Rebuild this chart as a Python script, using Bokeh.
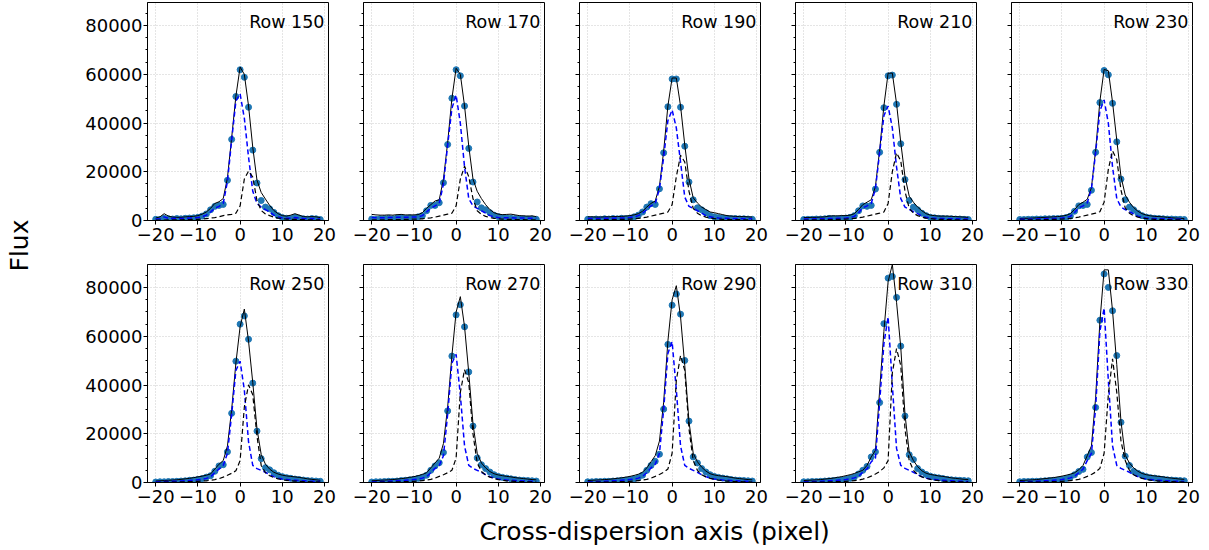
import math
from bokeh.plotting import figure
from bokeh.models import Range1d, FixedTicker, Label
from bokeh.layouts import row, column
from bokeh.embed import file_html
from bokeh.resources import INLINE
from bokeh.core.validation import silence
from bokeh.core.validation.warnings import MISSING_RENDERERS

silence(MISSING_RENDERERS, True)

# ---------------- data ----------------
pixel = list(range(-20, 20))
row_numbers = [150, 170, 190, 210, 230, 250, 270, 290, 310, 330]
x_ticks = [-20, -10, 0, 10, 20]
x_tick_labels = ["\u221220", "\u221210", "0", "10", "20"]
y_ticks = [0, 20000, 40000, 60000, 80000]
y_tick_labels = ["0", "20000", "40000", "60000", "80000"]

flux_150 = [500, 400, 900, 700, 600, 800, 700, 900, 1000, 1100, 1300, 1800, 2700, 4400, 5800, 6200, 6600, 16500, 33300, 50900,
            61900, 58800, 46500, 28900, 15400, 8200, 5500, 4800, 3300, 2000, 1200, 900, 800, 1300, 1000, 700, 600, 800, 700, 400]
model_150 = [1000, 1500, 2800, 1800, 1400, 1300, 1300, 1500, 1600, 1700, 2000, 2600, 3500, 5000, 7000, 7700, 9000, 17500, 34000, 51000,
             63000, 60000, 47000, 30000, 16500, 11500, 8800, 6200, 4100, 2800, 2000, 1800, 2200, 2800, 2200, 1600, 1500, 1600, 1500, 1200]
comp1_150 = [600, 700, 1500, 900, 800, 800, 800, 900, 1000, 1100, 1200, 1500, 2200, 3500, 5000, 5800, 7000, 16000, 33000, 49000,
             52000, 42000, 26000, 12000, 7000, 5500, 4500, 3500, 2200, 1500, 1000, 900, 900, 1200, 1000, 800, 700, 800, 700, 600]
comp2_150 = [200, 200, 200, 250, 250, 300, 300, 350, 400, 450, 500, 600, 800, 1000, 1200, 1500, 2000, 2300, 2500, 3000,
             6000, 17000, 20300, 17800, 8200, 4100, 2700, 2000, 1400, 1000, 800, 600, 500, 450, 400, 350, 300, 300, 250, 250]

flux_170 = [600, 500, 700, 800, 900, 700, 1000, 1200, 900, 1100, 1000, 1500, 2000, 4000, 6200, 6200, 7300, 15500, 31200, 50200,
            61900, 59400, 47000, 29600, 15800, 7600, 5200, 4400, 3200, 2200, 1600, 1200, 1000, 900, 800, 700, 700, 600, 600, 500]
model_170 = [2500, 2300, 2200, 2200, 2300, 2200, 2400, 2500, 2300, 2300, 2300, 2400, 3200, 5000, 6500, 8000, 8500, 17000, 32000, 50000,
             62500, 60000, 47000, 30500, 17000, 12000, 9000, 6500, 4500, 3200, 2600, 2400, 2500, 2600, 2300, 2000, 1900, 1800, 1900, 1600]
comp1_170 = [1200, 1100, 1100, 1100, 1200, 1200, 1300, 1300, 1300, 1400, 1400, 1500, 2000, 3500, 5000, 6000, 7000, 15000, 31000, 46000,
             51500, 40000, 22000, 9000, 6000, 5000, 4000, 3000, 2000, 1500, 1200, 1100, 1100, 1100, 1000, 1000, 1000, 900, 900, 900]
comp2_170 = [300, 300, 300, 300, 350, 350, 400, 400, 450, 500, 550, 600, 700, 900, 1100, 1400, 1800, 2200, 2600, 3000,
             6000, 17000, 22300, 18000, 9000, 4000, 2500, 1700, 1200, 900, 700, 600, 500, 450, 400, 350, 350, 300, 300, 300]

flux_190 = [500, 400, 600, 500, 700, 600, 800, 700, 900, 800, 1000, 1500, 2200, 3500, 5500, 6900, 6600, 13000, 27800, 46700,
            58100, 58100, 46500, 30500, 15800, 8500, 5200, 4400, 3200, 2000, 1500, 1200, 1000, 900, 800, 800, 700, 700, 600, 500]
model_190 = [1500, 1500, 1400, 1400, 1500, 1500, 1600, 1600, 1700, 1800, 2000, 2300, 2800, 3800, 5500, 7000, 8000, 14000, 28500, 47000,
             58500, 58500, 47000, 31000, 17000, 9300, 7200, 5500, 4500, 3500, 3200, 2800, 2400, 2000, 1800, 1700, 1600, 1600, 1500, 1400]
comp1_190 = [800, 800, 800, 800, 900, 900, 900, 1000, 1000, 1100, 1200, 1500, 2000, 3000, 4500, 6000, 7000, 13000, 26000, 41000,
             45400, 38000, 24000, 9600, 5800, 5000, 4000, 3000, 2000, 1500, 1200, 1000, 900, 900, 800, 800, 800, 700, 700, 700]
comp2_190 = [300, 300, 300, 300, 350, 350, 400, 400, 450, 500, 600, 700, 900, 1100, 1400, 1800, 2200, 2600, 3000, 3500,
             6500, 18000, 26800, 24000, 12000, 5000, 3000, 2000, 1400, 1000, 800, 600, 500, 450, 400, 350, 350, 300, 300, 300]

flux_210 = [400, 500, 500, 600, 600, 700, 900, 800, 700, 900, 1000, 1300, 2000, 4000, 6000, 5800, 6200, 12900, 28000, 46300,
            59400, 59700, 47700, 31500, 16800, 8200, 5500, 4400, 3000, 2000, 1300, 1100, 900, 800, 700, 700, 600, 600, 500, 400]
model_210 = [1200, 1200, 1300, 1300, 1400, 1500, 1800, 1900, 1900, 2000, 2000, 2200, 2800, 4500, 6500, 7500, 8500, 14000, 29000, 47000,
             60500, 60500, 48000, 32000, 18000, 10000, 7500, 5500, 4000, 2800, 2200, 2000, 1800, 1800, 1800, 1700, 1600, 1500, 1400, 1300]
comp1_210 = [600, 600, 600, 700, 700, 700, 800, 800, 900, 900, 1000, 1200, 1700, 3200, 5200, 6000, 7000, 13000, 28000, 43000,
             47000, 38000, 22000, 9000, 5500, 4500, 3600, 2800, 1800, 1300, 1000, 900, 800, 800, 700, 700, 700, 600, 600, 600]
comp2_210 = [200, 200, 250, 250, 300, 300, 350, 400, 450, 500, 600, 700, 900, 1100, 1400, 1800, 2200, 2600, 3000, 3500,
             7000, 20000, 27800, 24500, 12000, 5000, 3000, 2000, 1400, 1000, 800, 600, 500, 450, 400, 350, 300, 300, 250, 250]

flux_230 = [400, 400, 500, 500, 600, 600, 700, 700, 800, 800, 900, 1200, 1800, 3800, 6000, 6200, 6600, 12400, 28000, 48400,
            61600, 59800, 48100, 32300, 17000, 8500, 5500, 4400, 3000, 2000, 1400, 1100, 900, 800, 700, 600, 600, 500, 500, 400]
model_230 = [800, 900, 900, 1000, 1100, 1200, 1300, 1400, 1500, 1600, 1800, 2100, 2800, 4500, 6500, 7500, 8700, 13500, 29000, 49000,
             62000, 61500, 48500, 33000, 18000, 10500, 7500, 5300, 3800, 2800, 2200, 1900, 1700, 1600, 1500, 1300, 1100, 1000, 900, 800]
comp1_230 = [500, 500, 500, 600, 600, 700, 700, 800, 800, 900, 1000, 1200, 1700, 3300, 5200, 6000, 7200, 13000, 28000, 45000,
             49500, 40000, 22000, 9000, 5500, 4500, 3600, 2700, 1800, 1300, 1000, 900, 800, 700, 700, 600, 600, 500, 500, 500]
comp2_230 = [200, 200, 250, 250, 300, 300, 350, 400, 450, 500, 600, 700, 900, 1100, 1400, 1800, 2200, 2600, 3000, 3600,
             7500, 21000, 28600, 25000, 12500, 5200, 3000, 2000, 1400, 1000, 800, 600, 500, 450, 400, 350, 300, 300, 250, 250]

flux_250 = [200, 300, 300, 400, 400, 500, 600, 700, 900, 1000, 1300, 1600, 2200, 2800, 4600, 6800, 7300, 12600, 28400, 49800,
            65000, 68400, 58800, 40800, 21100, 9800, 6100, 5200, 4000, 3000, 2400, 2000, 1700, 1400, 1200, 1000, 800, 700, 600, 500]
model_250 = [600, 700, 800, 900, 1000, 1100, 1300, 1500, 1700, 2000, 2300, 2600, 3000, 3500, 5500, 7500, 9000, 15000, 30000, 49000,
             64000, 71200, 58000, 41000, 22000, 11500, 7500, 5500, 4200, 3500, 3000, 2700, 2500, 2300, 2100, 1800, 1500, 1300, 1100, 900]
comp1_250 = [300, 300, 400, 400, 500, 500, 600, 700, 800, 900, 1100, 1300, 1700, 2300, 4000, 5500, 7000, 12000, 28000, 46000,
             49800, 38000, 16700, 7000, 5700, 5000, 4200, 3200, 2400, 1800, 1400, 1200, 1000, 900, 800, 700, 600, 500, 500, 400]
comp2_250 = [100, 100, 150, 150, 200, 200, 250, 300, 350, 400, 500, 600, 700, 900, 1200, 1600, 2200, 3000, 3800, 4800,
             9000, 31000, 40100, 36000, 19000, 7000, 4000, 2800, 2000, 1500, 1100, 900, 700, 600, 500, 400, 350, 300, 250, 200]

flux_270 = [200, 300, 300, 400, 500, 500, 600, 800, 900, 1100, 1300, 1700, 2200, 3000, 5000, 6800, 8100, 12300, 29400, 51900,
            68800, 73000, 63900, 45400, 23200, 10100, 7300, 5700, 4300, 3200, 2500, 2100, 1800, 1500, 1200, 1000, 900, 800, 700, 600]
model_270 = [700, 800, 900, 1000, 1100, 1200, 1400, 1600, 1800, 2100, 2400, 2800, 3300, 4000, 6000, 8000, 10000, 16000, 31000, 52000,
             70000, 76300, 64000, 45000, 24000, 12000, 8000, 6000, 4500, 3600, 3100, 2800, 2500, 2300, 2000, 1800, 1600, 1400, 1200, 1100]
comp1_270 = [300, 300, 400, 400, 500, 600, 700, 800, 900, 1000, 1200, 1400, 1800, 2400, 4000, 5800, 7000, 11000, 28000, 49000,
             52600, 36000, 15000, 7000, 5800, 5000, 4200, 3200, 2400, 1800, 1400, 1200, 1000, 900, 800, 700, 600, 500, 500, 400]
comp2_270 = [100, 100, 150, 150, 200, 200, 250, 300, 350, 400, 500, 600, 800, 1000, 1300, 1800, 2500, 3200, 4000, 5000,
             10000, 37000, 46300, 41000, 20000, 8000, 4500, 3000, 2200, 1600, 1200, 900, 700, 600, 500, 400, 350, 300, 250, 200]

flux_290 = [300, 300, 400, 400, 500, 500, 600, 700, 900, 1000, 1200, 1500, 2000, 3000, 5000, 7000, 8700, 11600, 30100, 56700,
            72800, 77400, 69100, 50100, 25200, 10500, 8000, 5700, 4300, 3200, 2500, 2100, 1800, 1500, 1200, 1000, 900, 800, 700, 600]
model_290 = [800, 900, 1000, 1100, 1200, 1300, 1500, 1700, 1900, 2200, 2500, 2900, 3400, 4200, 6000, 8500, 11000, 17000, 33000, 58000,
             75000, 80800, 68000, 48000, 25000, 12000, 8500, 6300, 4700, 3600, 3100, 2800, 2600, 2400, 2100, 1800, 1600, 1400, 1200, 1100]
comp1_290 = [300, 300, 400, 400, 500, 600, 700, 800, 900, 1000, 1200, 1400, 1800, 2500, 4000, 6000, 7500, 12000, 30000, 53000,
             57800, 38000, 15000, 7000, 5800, 5000, 4200, 3200, 2400, 1800, 1400, 1200, 1000, 900, 800, 700, 600, 500, 500, 400]
comp2_290 = [100, 100, 150, 150, 200, 200, 250, 300, 350, 400, 500, 600, 800, 1000, 1300, 1800, 2500, 3300, 4200, 5500,
             12000, 42000, 52100, 46000, 22000, 9000, 5000, 3200, 2300, 1700, 1300, 1000, 800, 600, 500, 400, 350, 300, 250, 200]

flux_310 = [300, 300, 400, 400, 500, 600, 700, 800, 1000, 1100, 1300, 1700, 2300, 3500, 5000, 6600, 10500, 12600, 32800, 65200,
            83900, 84600, 76000, 56000, 27300, 11400, 9400, 5700, 4300, 3300, 2600, 2200, 1900, 1600, 1300, 1100, 1000, 900, 800, 700]
model_310 = [800, 900, 1000, 1100, 1200, 1400, 1600, 1800, 2100, 2400, 2800, 3200, 3700, 4400, 5000, 7000, 10500, 13200, 38000, 62000,
             82500, 89500, 74000, 55500, 28000, 12500, 9000, 6500, 4800, 3800, 3300, 3000, 2700, 2500, 2200, 1900, 1700, 1500, 1300, 1200]
comp1_310 = [300, 300, 400, 400, 500, 600, 700, 800, 900, 1000, 1200, 1500, 1900, 2600, 4200, 5600, 8500, 10000, 33000, 57000,
             68000, 40000, 14000, 7000, 5800, 5000, 4200, 3200, 2400, 1800, 1400, 1200, 1000, 900, 800, 700, 600, 500, 500, 400]
comp2_310 = [100, 100, 150, 150, 200, 200, 250, 300, 350, 400, 500, 600, 800, 1000, 1400, 1900, 2600, 3500, 4500, 6000,
             9000, 45000, 55000, 48000, 22000, 9000, 5000, 3200, 2300, 1700, 1300, 1000, 800, 600, 500, 400, 350, 300, 250, 200]

flux_330 = [300, 400, 400, 500, 500, 600, 700, 800, 900, 1000, 1200, 1600, 2200, 3200, 4500, 5400, 10500, 12300, 30800, 66600,
            85600, 80100, 70500, 52100, 24700, 10800, 7000, 4600, 3800, 3000, 2400, 2000, 1800, 1500, 1300, 1100, 1000, 900, 800, 700]
model_330 = [800, 900, 1000, 1100, 1200, 1400, 1600, 1800, 2000, 2300, 2600, 3000, 3400, 4000, 5200, 7000, 11000, 15000, 35000, 66000,
             87300, 87300, 70500, 48400, 25000, 11200, 8000, 6000, 4600, 3700, 3200, 2900, 2700, 2500, 2300, 2000, 1800, 1600, 1400, 1300]
comp1_330 = [300, 300, 400, 400, 500, 600, 700, 800, 900, 1000, 1200, 1500, 1900, 2600, 4000, 5500, 9000, 12000, 31000, 62000,
             71600, 42000, 15000, 7000, 5800, 5000, 4200, 3200, 2400, 1800, 1400, 1200, 1000, 900, 800, 700, 600, 500, 500, 400]
comp2_330 = [100, 100, 150, 150, 200, 200, 250, 300, 350, 400, 500, 600, 800, 1000, 1300, 1800, 2500, 3300, 4300, 5800,
             12000, 36000, 50800, 37000, 17000, 9000, 5000, 3200, 2300, 1700, 1300, 1000, 800, 600, 500, 400, 350, 300, 250, 200]

flux_sets = [flux_150, flux_170, flux_190, flux_210, flux_230, flux_250, flux_270, flux_290, flux_310, flux_330]
model_sets = [model_150, model_170, model_190, model_210, model_230, model_250, model_270, model_290, model_310, model_330]
comp1_sets = [comp1_150, comp1_170, comp1_190, comp1_210, comp1_230, comp1_250, comp1_270, comp1_290, comp1_310, comp1_330]
comp2_sets = [comp2_150, comp2_170, comp2_190, comp2_210, comp2_230, comp2_250, comp2_270, comp2_290, comp2_310, comp2_330]

# ---------------- styling ----------------
FONT = "DejaVu Sans"
X_START, X_END = -21.95, 20.95
Y_START, Y_END = 0, 89500
FRAME_W, FRAME_H = 181, 218


def make_panel(i):
    col = i % 5
    top = i < 5
    p = figure(
        frame_width=FRAME_W, frame_height=FRAME_H,
        x_range=Range1d(X_START, X_END), y_range=Range1d(Y_START, Y_END),
        output_backend="svg", toolbar_location=None,
        min_border_left=107 if col == 0 else 17,
        min_border_right=17 if col == 4 else 18,
        min_border_top=2 if top else 6,
        min_border_bottom=38 if top else 36,
        background_fill_color="white", border_fill_color="white",
    )
    p.outline_line_color = "black"
    p.outline_line_width = 1
    p.outline_line_alpha = 1

    xt = FixedTicker(ticks=x_ticks, minor_ticks=[])
    yt = FixedTicker(ticks=y_ticks, minor_ticks=list(range(0, 90000, 5000)))
    p.xaxis.ticker = xt
    p.yaxis.ticker = yt
    p.xgrid.ticker = xt
    p.ygrid.ticker = yt
    p.grid.grid_line_color = "#bdbdbd"
    p.grid.grid_line_width = 0.8
    p.grid.grid_line_dash = "1 2"

    p.xaxis.major_label_overrides = {t: s for t, s in zip(x_ticks, x_tick_labels)}
    if col == 0:
        p.yaxis.major_label_overrides = {t: s for t, s in zip(y_ticks, y_tick_labels)}
    else:
        p.yaxis.major_label_overrides = {t: "" for t in y_ticks}

    for ax in (p.xaxis[0], p.yaxis[0]):
        ax.axis_line_color = "black"
        ax.axis_line_width = 1
        ax.major_tick_line_color = "black"
        ax.minor_tick_line_color = "black"
        ax.major_tick_out = 4
        ax.major_tick_in = 0
        ax.minor_tick_out = 2
        ax.minor_tick_in = 0
        ax.major_label_text_font = FONT
        ax.major_label_text_font_size = "18px"
        ax.major_label_text_color = "black"
    p.xaxis.major_label_standoff = 3
    p.yaxis.major_label_standoff = 1

    xs = pixel
    p.scatter(xs, flux_sets[i], size=6, color="#1f77b4")
    p.line(xs, model_sets[i], line_color="black", line_width=1)
    p.line(xs, comp1_sets[i], line_color="blue", line_width=1.5, line_dash="5 3")
    p.line(xs, comp2_sets[i], line_color="black", line_width=1.2, line_dash="5 3")

    p.add_layout(Label(
        x=20.0, y=Y_END - 19.5 * (Y_END - Y_START) / FRAME_H,
        text=f"Row {row_numbers[i]}", text_align="right", text_baseline="middle",
        text_font=FONT, text_font_size="17.5px", text_color="black",
    ))
    return p


panels = [make_panel(i) for i in range(10)]

LEFT_W = 40
# x label strip
xlab = figure(width=1209 - LEFT_W, height=32, x_range=Range1d(0, 1209 - LEFT_W), y_range=Range1d(0, 32),
              output_backend="svg", toolbar_location=None, min_border=0,
              x_axis_location=None, y_axis_location=None, outline_line_color=None,
              border_fill_color="white", background_fill_color="white")
xlab.grid.visible = False
xlab.add_layout(Label(x=654 - LEFT_W, y=19, text="Cross-dispersion axis (pixel)",
                      text_align="center", text_baseline="middle",
                      text_font=FONT, text_font_size="25px", text_color="black"))

# y label strip
ylab = figure(width=LEFT_W, height=550, x_range=Range1d(0, LEFT_W), y_range=Range1d(0, 550),
              output_backend="svg", toolbar_location=None, min_border=0,
              x_axis_location=None, y_axis_location=None, outline_line_color=None,
              border_fill_color="white", background_fill_color="white")
ylab.grid.visible = False
ylab.add_layout(Label(x=19, y=550 - 245, text="Flux", angle=math.pi / 2,
                      text_align="center", text_baseline="middle",
                      text_font=FONT, text_font_size="25px", text_color="black"))

layout = row(ylab, column(row(*panels[:5]), row(*panels[5:]), xlab))

open("out.html", "w").write(file_html(layout, INLINE))
